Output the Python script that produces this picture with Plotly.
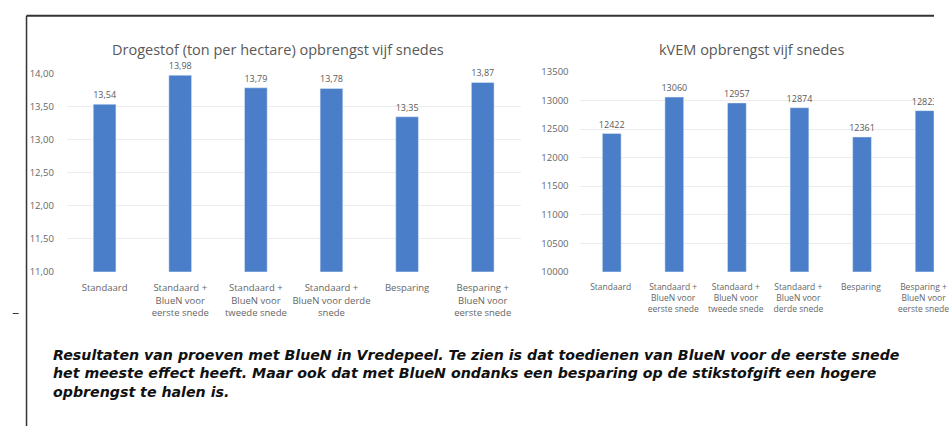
import plotly.graph_objects as go

W, H = 951, 432

cats_left = [
    "Standaard",
    "Standaard +<br>BlueN voor<br>eerste snede",
    "Standaard +<br>BlueN voor<br>tweede snede",
    "Standaard +<br>BlueN voor derde<br>snede",
    "Besparing",
    "Besparing +<br>BlueN voor<br>eerste snede",
]
cats_right = [
    "Standaard ",
    "Standaard + <br>BlueN voor <br>eerste snede ",
    "Standaard + <br>BlueN voor <br>tweede snede ",
    "Standaard + <br>BlueN voor <br>derde snede ",
    "Besparing ",
    "Besparing + <br>BlueN voor <br>eerste snede ",
]
drogestof = [13.54, 13.98, 13.79, 13.78, 13.35, 13.87]
kvem = [12422, 13060, 12957, 12874, 12361, 12823]

title_left = "Drogestof (ton per hectare) opbrengst vijf snedes"
title_right = "kVEM opbrengst vijf snedes"
caption = ("Resultaten van proeven met BlueN in Vredepeel. Te zien is dat toedienen van BlueN voor de eerste snede<br>"
           "het meeste effect heeft. Maar ook dat met BlueN ondanks een besparing op de stikstofgift een hogere<br>"
           "opbrengst te halen is.")

BAR = "#4a7ec8"
TXT = "#5a5a5a"
FONT = "Open Sans"
TICKF = dict(size=9.5, color="#666666", family=FONT)
TICKF_R = dict(size=8.5, color="#666666", family=FONT)

def px(x):
    return x / W

def py(y):
    return 1 - y / H

fig = go.Figure()
fig.add_trace(go.Bar(
    x=cats_left, y=drogestof, marker_color=BAR, xaxis="x", yaxis="y",
    texttemplate="%{y:.2f}", textposition="outside", constraintext="none",
    textfont=dict(size=9, color=TXT, family=FONT), cliponaxis=False,
))
fig.add_trace(go.Bar(
    x=cats_right, y=kvem, marker_color=BAR, xaxis="x2", yaxis="y2",
    texttemplate="%{y:d}", textposition="outside", constraintext="none",
    textfont=dict(size=9, color=TXT, family=FONT), cliponaxis=True,
))

axis_common = dict(showline=False, zeroline=False)
fig.update_layout(
    width=W, height=H,
    margin=dict(l=0, r=0, t=0, b=0),
    paper_bgcolor="white", plot_bgcolor="white",
    separators=",.",
    showlegend=False,
    bargap=0.7,
    font=dict(family=FONT, color=TXT),
    xaxis=dict(domain=[px(68), px(530)], anchor="y", type="category",
               range=[-0.5, 5.5], showgrid=False, tickangle=0,
               ticks="outside", ticklen=7, tickcolor="rgba(0,0,0,0)",
               tickfont=TICKF, **axis_common),
    yaxis=dict(domain=[py(273), py(69)], anchor="x", range=[11, 14],
               dtick=0.5, tickformat=".2f", showgrid=True,
               gridcolor="#ececec", gridwidth=1,
               ticks="outside", ticklen=10, tickcolor="rgba(0,0,0,0)",
               tickfont=TICKF, **axis_common),
    xaxis2=dict(domain=[px(591), 1.0], anchor="y2", type="category",
                range=[-0.5, 5.15], showgrid=False, tickangle=0,
                ticks="outside", ticklen=7, tickcolor="rgba(0,0,0,0)",
                tickfont=TICKF_R, **axis_common),
    yaxis2=dict(domain=[py(273), py(67)], anchor="x2", range=[10000, 13500],
                dtick=500, tickformat="d", showgrid=True,
                gridcolor="#ececec", gridwidth=1,
                ticks="outside", ticklen=9, tickcolor="rgba(0,0,0,0)",
                tickfont=TICKF, **axis_common),
)

fig.add_annotation(text=title_left, xref="paper", yref="paper",
                   x=px(283), y=py(44), xanchor="center", yanchor="middle",
                   showarrow=False, font=dict(size=14.5, color="#595959", family=FONT))
fig.add_annotation(text=title_right, xref="paper", yref="paper",
                   x=px(765), y=py(44), xanchor="center", yanchor="middle",
                   showarrow=False, font=dict(size=14.5, color="#595959", family=FONT))
fig.add_annotation(text="<b><i>" + caption + "</i></b>", xref="paper", yref="paper",
                   x=px(52), y=py(349), xanchor="left", yanchor="top", align="left",
                   showarrow=False, font=dict(size=14.2, color="#111111", family="DejaVu Sans"))

# page frame
fig.add_shape(type="line", xref="paper", yref="paper",
              x0=px(27), x1=1.0, y0=py(9), y1=py(9),
              line=dict(color="#333333", width=2))
fig.add_shape(type="line", xref="paper", yref="paper",
              x0=px(27), x1=px(27), y0=py(9), y1=0,
              line=dict(color="#333333", width=1.5))
fig.add_shape(type="line", xref="paper", yref="paper",
              x0=px(13), x1=px(19), y0=py(316), y1=py(316),
              line=dict(color="#333333", width=1))

fig.write_html("out.html")
